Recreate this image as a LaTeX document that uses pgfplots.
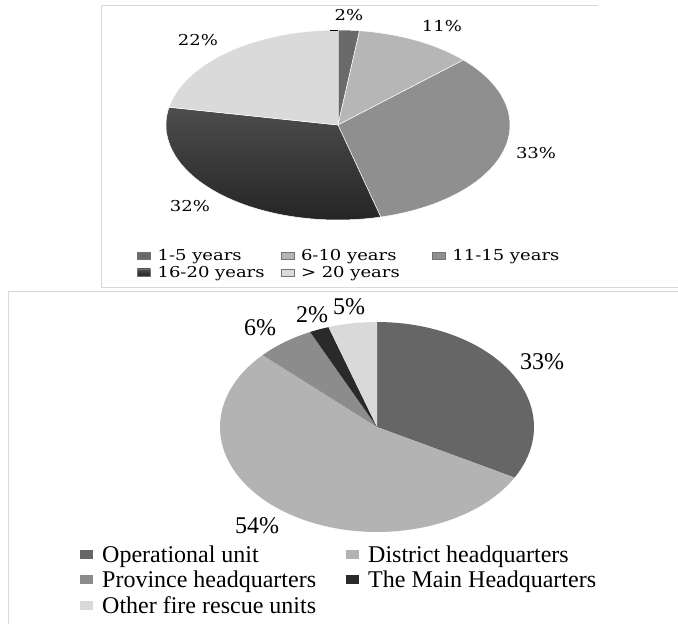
\documentclass[border=0pt]{standalone}
\usepackage{graphicx}
\usepackage{pgfplots}
\pgfplotsset{compat=1.18}
\usepackage{fontspec}
\setmainfont{Liberation Serif}
\newfontfamily\topfont{DejaVu Serif}
\definecolor{ta}{HTML}{6A6A6A}
\definecolor{tb}{HTML}{B6B6B6}
\definecolor{tc}{HTML}{8F8F8F}
\definecolor{tdA}{HTML}{4D4D4D}
\definecolor{tdB}{HTML}{252525}
\definecolor{te}{HTML}{DADADA}
\definecolor{ba}{HTML}{666666}
\definecolor{bb}{HTML}{B3B3B3}
\definecolor{bc}{HTML}{8C8C8C}
\definecolor{bd}{HTML}{2A2A2A}
\definecolor{be}{HTML}{D9D9D9}
\definecolor{framec}{HTML}{D3DAE2}
\newcommand{\tf}[1]{\scalebox{1.2}[1]{\topfont\fontsize{15}{18}\selectfont #1}}
\newcommand{\bfnt}[1]{{\fontsize{24}{27}\selectfont #1}}
\begin{document}
\begin{tikzpicture}[x=1pt,y=1pt]
\useasboundingbox[fill=white] (0,0) rectangle (678,-624);
\draw[framec, line width=0.8pt] (101,-287) -- (101,-5) -- (598,-5);
\draw[framec, line width=0.8pt] (101,-287) -- (678,-287);
\draw[framec, line width=0.8pt] (8,-624) -- (8,-291) -- (678,-291);
% ---------------- top pie ----------------
\begin{axis}[at={(338,-125)}, anchor=center, hide axis, x=1pt, y=1pt,
  xmin=-210, xmax=210, ymin=-150, ymax=150, clip=false,
  legend columns=3,
  legend image code/.code={\path[#1, draw=black!55, line width=0.3pt] (0pt,1pt) rectangle (13pt,8.5pt); \path (19pt,0pt);},
  legend style={draw=none, fill=none, inner sep=0pt, row sep=0pt,
    at={(axis cs:-201,-123)}, anchor=north west,
    nodes={inner sep=1pt, text height=11pt, text depth=4pt, anchor=base west}},
  legend cell align=left]
\addplot[fill=ta, draw=white, line width=0.5pt, domain=0:2, samples=5] ({172*sin(3.6*x)},{95*cos(3.6*x)}) -- (axis cs:0,0) -- cycle;
\addlegendentry{\makebox[122pt][l]{\tf{1-5 years}}}
\addplot[fill=tb, draw=white, line width=0.5pt, domain=2:13, samples=20] ({172*sin(3.6*x)},{95*cos(3.6*x)}) -- (axis cs:0,0) -- cycle;
\addlegendentry{\makebox[130pt][l]{\tf{6-10 years}}}
\addplot[fill=tc, draw=white, line width=0.5pt, domain=13:46, samples=50] ({172*sin(3.6*x)},{95*cos(3.6*x)}) -- (axis cs:0,0) -- cycle;
\addlegendentry{\tf{11-15 years}}
\addplot[top color=tdA, bottom color=tdB, draw=white, line width=0.5pt, domain=46:78, samples=50] ({172*sin(3.6*x)},{95*cos(3.6*x)}) -- (axis cs:0,0) -- cycle;
\addlegendentry{\makebox[122pt][l]{\tf{16-20 years}}}
\addplot[fill=te, draw=white, line width=0.5pt, domain=78:100, samples=40] ({172*sin(3.6*x)},{95*cos(3.6*x)}) -- (axis cs:0,0) -- cycle;
\addlegendentry{\makebox[130pt][l]{\tf{> 20 years}}}
\draw[black, line width=1pt] (axis cs:-8,95) -- (axis cs:0,95);
\node at (axis cs:11,110) {\tf{2\%}};
\node at (axis cs:104,99) {\tf{11\%}};
\node at (axis cs:198,-28) {\tf{33\%}};
\node at (axis cs:-148,-81) {\tf{32\%}};
\node at (axis cs:-140,85) {\tf{22\%}};
\end{axis}
% ---------------- bottom pie ----------------
\begin{axis}[at={(377,-427)}, anchor=center, hide axis, x=1pt, y=1pt,
  xmin=-320, xmax=320, ymin=-190, ymax=190, clip=false,
  legend columns=2,
  legend image code/.code={\fill[#1] (0pt,3.5pt) rectangle (13pt,12.5pt); \path (21pt,0pt);},
  legend style={draw=none, fill=none, inner sep=0pt, row sep=0pt,
    at={(axis cs:-297,-117)}, anchor=north west,
    nodes={inner sep=1pt, text height=17pt, text depth=6.5pt, anchor=base west}},
  legend cell align=left]
\addplot[fill=ba, draw=none, domain=0:33, samples=50] ({157*sin(3.6*x)},{105*cos(3.6*x)}) -- (axis cs:0,0) -- cycle;
\addlegendentry{\makebox[243pt][l]{\bfnt{Operational unit}}}
\addplot[fill=bb, draw=none, domain=33:87, samples=80] ({157*sin(3.6*x)},{105*cos(3.6*x)}) -- (axis cs:0,0) -- cycle;
\addlegendentry{\bfnt{District headquarters}}
\addplot[fill=bc, draw=none, domain=87:93, samples=10] ({157*sin(3.6*x)},{105*cos(3.6*x)}) -- (axis cs:0,0) -- cycle;
\addlegendentry{\makebox[243pt][l]{\bfnt{Province headquarters}}}
\addplot[fill=bd, draw=none, domain=93:95, samples=5] ({157*sin(3.6*x)},{105*cos(3.6*x)}) -- (axis cs:0,0) -- cycle;
\addlegendentry{\bfnt{The Main Headquarters}}
\addplot[fill=be, draw=none, domain=95:100, samples=8] ({157*sin(3.6*x)},{105*cos(3.6*x)}) -- (axis cs:0,0) -- cycle;
\addlegendentry{\makebox[243pt][l]{\bfnt{Other fire rescue units}}}
\node at (axis cs:165,65) {\bfnt{33\%}};
\node at (axis cs:-120,-99) {\bfnt{54\%}};
\node at (axis cs:-117,99) {\bfnt{6\%}};
\node at (axis cs:-65,112) {\bfnt{2\%}};
\node at (axis cs:-28,120) {\bfnt{5\%}};
\end{axis}
\end{tikzpicture}
\end{document}
